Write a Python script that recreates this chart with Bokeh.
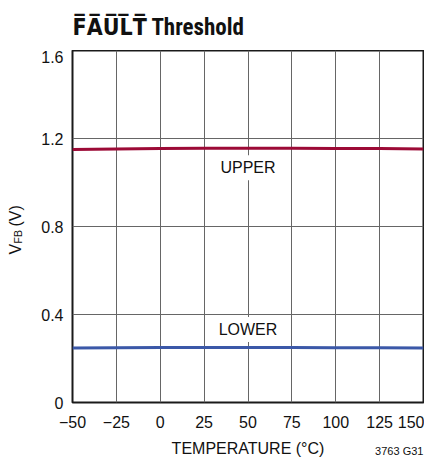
import math
from bokeh.plotting import figure
from bokeh.models import ColumnDataSource, Label, FixedTicker, Range1d, LinearAxis
from bokeh.layouts import row, column
from bokeh.embed import file_html
from bokeh.resources import INLINE

# ---- data ----
temperature = [-50, -25, 0, 25, 50, 75, 100, 125, 150]
upper_vfb = [1.150, 1.152, 1.154, 1.156, 1.156, 1.156, 1.155, 1.154, 1.152]
lower_vfb = [0.248, 0.249, 0.250, 0.250, 0.250, 0.250, 0.249, 0.249, 0.248]
x_ticks = [-50, -25, 0, 25, 50, 75, 100, 125, 150]
x_tick_labels = ["\u221250", "\u221225", "0", "25", "50", "75", "100", "125", "150"]
y_ticks = [0, 0.4, 0.8, 1.2, 1.6]
y_tick_labels = ["0", "0.4", "0.8", "1.2", "1.6"]
series_labels = ["UPPER", "LOWER"]

TITLE_FONT = "Roboto Condensed, 'DejaVu Sans Condensed', 'Liberation Sans', sans-serif"
FONT = "'Liberation Sans', Arial, sans-serif"
INK = "#111111"
UPPER_COLOR = "#9c0a36"
LOWER_COLOR = "#3b58a8"

# ---- geometry (canvas pixels) ----
W, H = 424, 459
TH = 50                 # title strip height (= frame top)
RH = H - TH             # height of the plot row
LW = 36                 # strip for the rotated y-axis title
PW = W - LW             # main plot width
FL_PAGE = 72            # frame left on the page
FL = FL_PAGE - LW       # frame left inside main plot
FW, FH = 351, 352       # frame size
FB_PAGE = TH + FH       # frame bottom on the page


def bare(width, height, **borders):
    f = figure(width=width, height=height, output_backend="svg", toolbar_location=None,
               x_range=Range1d(0, 1), y_range=Range1d(0, 1), title=None,
               x_axis_location=None, y_axis_location=None, min_border=0, **borders)
    f.outline_line_color = None
    f.grid.visible = False
    f.background_fill_color = "white"
    f.border_fill_color = "white"
    return f


# ---- title strip ----
tf = bare(W, TH, min_border_left=FL_PAGE, min_border_right=W - FL_PAGE - FW)
tf.add_layout(Label(x=0, y=TH - 27, x_units="screen", y_units="screen",
                    text="F\u0305A\u0305U\u0305L\u0305T\u0305 Threshold",
                    text_align="left", text_baseline="alphabetic",
                    text_font=TITLE_FONT, text_font_size="23px", text_font_style="bold",
                    text_color=INK))

# ---- main plot ----
p = figure(width=PW, height=RH, output_backend="svg", toolbar_location=None, title=None,
           x_range=Range1d(-50, 150), y_range=Range1d(0, 1.6),
           min_border_left=FL, min_border_right=PW - FL - FW, min_border_top=0,
           min_border_bottom=RH - FH)

p.outline_line_color = "#1a1a1a"
p.outline_line_width = 2
p.background_fill_color = "white"
p.border_fill_color = "white"

for ax in (p.xaxis, p.yaxis):
    ax.axis_line_color = None
    ax.major_tick_line_color = None
    ax.minor_tick_line_color = None
    ax.major_tick_out = 0
    ax.major_tick_in = 0
    ax.minor_tick_out = 0
    ax.minor_tick_in = 0
    ax.major_label_text_font = FONT
    ax.major_label_text_font_size = "16px"
    ax.major_label_text_color = INK

p.xaxis.ticker = FixedTicker(ticks=x_ticks)
p.xaxis.major_label_overrides = {t: l for t, l in zip(x_ticks, x_tick_labels)}
p.xaxis.major_label_standoff = 13
p.xaxis.axis_label = "TEMPERATURE (\u00b0C)"
p.xaxis.axis_label_text_font = FONT
p.xaxis.axis_label_text_font_size = "16px"
p.xaxis.axis_label_text_font_style = "normal"
p.xaxis.axis_label_text_color = INK
p.xaxis.axis_label_standoff = 9

p.yaxis.ticker = FixedTicker(ticks=y_ticks)
p.yaxis.major_label_overrides = {t: l for t, l in zip(y_ticks, y_tick_labels)}
p.yaxis.major_label_standoff = 9

# figure code "3763 G31" under the right end of the x axis
code_pos = 136.2
code_axis = LinearAxis(ticker=FixedTicker(ticks=[code_pos]),
                       major_label_overrides={code_pos: "3763 G31"},
                       axis_line_color=None, major_tick_line_color=None,
                       minor_tick_line_color=None, major_tick_out=0, major_tick_in=0,
                       minor_tick_out=0, minor_tick_in=0,
                       major_label_text_font=FONT, major_label_text_font_size="11px",
                       major_label_text_color=INK, major_label_standoff=-15)
p.add_layout(code_axis, "below")

p.xgrid.ticker = FixedTicker(ticks=x_ticks)
p.ygrid.ticker = FixedTicker(ticks=y_ticks)
for g in (p.xgrid, p.ygrid):
    g.grid_line_color = "#666666"
    g.grid_line_width = 1
    g.grid_line_alpha = 1.0

src = ColumnDataSource(dict(t=temperature, up=upper_vfb, lo=lower_vfb))
p.line("t", "up", source=src, line_color=UPPER_COLOR, line_width=3)
p.line("t", "lo", source=src, line_color=LOWER_COLOR, line_width=3)

for txt, yv in zip(series_labels, (1.067, 0.332)):
    p.add_layout(Label(x=50, y=yv, text=txt, text_align="center", text_baseline="middle",
                       text_font=FONT, text_font_size="16px", text_color=INK,
                       background_fill_color="white", padding=4))

# ---- left strip: rotated y-axis title V_FB (V) ----
# (its frame is aligned with the main frame by the row layout: y measured from frame bottom)
lf = bare(LW, RH)
ang = math.pi / 2
base_x = 14.7
lf.add_layout(Label(x=base_x, y=FB_PAGE - 254, x_units="screen", y_units="screen", text="V",
                    angle=ang, text_align="left", text_baseline="alphabetic",
                    text_font=FONT, text_font_size="16px", text_color=INK))
lf.add_layout(Label(x=base_x + 2.5, y=FB_PAGE - 243, x_units="screen", y_units="screen",
                    text="FB", angle=ang, text_align="left", text_baseline="alphabetic",
                    text_font=FONT, text_font_size="10.5px", text_color=INK))
lf.add_layout(Label(x=base_x, y=FB_PAGE - 226, x_units="screen", y_units="screen", text="(V)",
                    angle=ang, text_align="left", text_baseline="alphabetic",
                    text_font=FONT, text_font_size="16px", text_color=INK))

layout = column(tf, row(lf, p, spacing=0), spacing=0)
open("out.html", "w").write(file_html(layout, INLINE))
